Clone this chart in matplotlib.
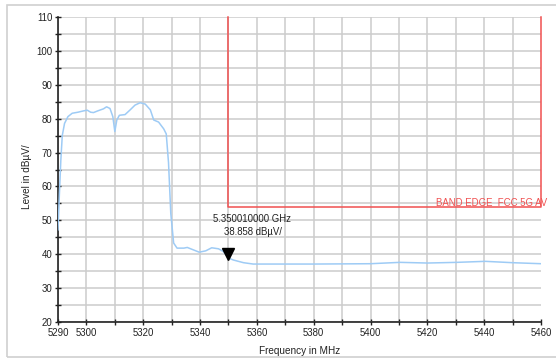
import matplotlib
matplotlib.use("Agg")
import matplotlib.pyplot as plt
import matplotlib.transforms as mtransforms
from matplotlib.patches import Rectangle

plt.rcParams['font.family'] = ['Liberation Sans', 'DejaVu Sans']
FS = 6.9

# Trace data (MHz, dBµV)
freq = [5290.0, 5290.5, 5291.0, 5291.5, 5292.3, 5293.5, 5295.0, 5297.0, 5299.0, 5300.3,
        5301.5, 5302.5, 5304.0, 5306.0, 5307.1, 5308.3, 5309.3, 5310.0, 5310.7, 5311.6,
        5313.6, 5315.4, 5317.1, 5318.9, 5320.7, 5322.5, 5323.7, 5325.4, 5327.2, 5328.1,
        5328.9, 5329.7, 5330.7, 5331.9, 5334.3, 5335.5, 5337.6, 5339.7, 5342.0, 5344.1,
        5346.5, 5348.2, 5350.0, 5351.7, 5355.3, 5358.7, 5363.5, 5380.0, 5400.0, 5410.4,
        5420.0, 5430.4, 5440.4, 5450.0, 5460.0]
level = [47.2, 58.0, 67.8, 75.0, 78.6, 80.6, 81.6, 81.9, 82.3, 82.5,
         81.9, 81.8, 82.3, 82.9, 83.5, 83.0, 80.6, 76.2, 79.6, 81.0,
         81.2, 82.6, 84.0, 84.7, 84.3, 82.6, 79.6, 79.0, 77.0, 75.5,
         67.0, 52.0, 43.3, 41.8, 41.8, 42.0, 41.3, 40.6, 41.0, 41.9,
         41.6, 40.8, 38.858, 38.3, 37.5, 37.1, 37.1, 37.1, 37.2, 37.6,
         37.4, 37.6, 37.9, 37.5, 37.2]

# Limit line
limit_freq = [5350, 5350, 5460, 5460]
limit_level = [110, 54, 54, 110]
limit_label = "BAND EDGE  FCC 5G AV"

marker_freq = 5350.0
marker_level = 38.858
marker_text = "5.350010000 GHz\n38.858 dBµV/"

x_ticks = list(range(5290, 5461, 10))
x_labels = [str(t) if (t == 5290 or t % 20 == 0) else '' for t in x_ticks]
y_ticks = list(range(20, 111, 10))
y_minor = list(range(25, 110, 10))

fig = plt.figure(figsize=(5.56, 3.58), dpi=100)
fig.patches.append(Rectangle((7/556, 1-356.5/358), 1.2, (356.5-5)/358, transform=fig.transFigure,
                             fill=False, edgecolor='#d0d0d0', linewidth=1.2))
ax = fig.add_axes([58/556, 1-322/358, (541-58)/556, (322-17)/358])

ax.set_xlim(5290, 5460)
ax.set_ylim(20, 110)
ax.set_xticks(x_ticks)
ax.set_xticklabels(x_labels)
ax.set_yticks(y_ticks)
ax.set_yticks(y_minor, minor=True)

ax.grid(True, which='both', color='#cccccc', linewidth=1.1)
ax.set_axisbelow(True)
ax.xaxis.get_gridlines()[-1].set_visible(False)

for s in ['top', 'right']:
    ax.spines[s].set_visible(False)
for s in ['left', 'bottom']:
    ax.spines[s].set_color('#222222')
    ax.spines[s].set_linewidth(1.2)

ax.tick_params(axis='both', which='both', direction='inout', length=5, width=1,
               color='#222222', labelsize=FS, labelcolor='#222222', pad=1.5)

ax.plot(freq, level, color='#9ecbf5', linewidth=1.1, zorder=3)
ax.plot(limit_freq, limit_level, color='#f05050', linewidth=1.1, zorder=4, clip_on=False)
ax.annotate(limit_label, xy=(5460, 54), xytext=(6, -1), textcoords='offset pixels',
            ha='right', va='bottom', color='#f05050', fontsize=FS)

ax.plot([marker_freq], [marker_level], marker='v', color='black', markersize=8,
        zorder=5, transform=ax.transData + mtransforms.ScaledTranslation(0, 4/100, fig.dpi_scale_trans))
ax.annotate(marker_text, xy=(marker_freq, marker_level), xytext=(24, 21),
            textcoords='offset pixels', ha='center', va='bottom', fontsize=FS,
            color='#222222', linespacing=1.35)

ax.set_xlabel("Frequency in MHz", fontsize=FS + 0.3, color='#222222')
ax.xaxis.label.set_va('center')
ax.xaxis.set_label_coords(0.5, (322-350.5)/305)
ax.set_ylabel("Level in dBµV/", fontsize=FS + 0.3, color='#222222')
ax.yaxis.label.set_va('center')
ax.yaxis.set_label_coords((27-58)/483, (322-177)/305)

fig.savefig("out.png", dpi=100)
